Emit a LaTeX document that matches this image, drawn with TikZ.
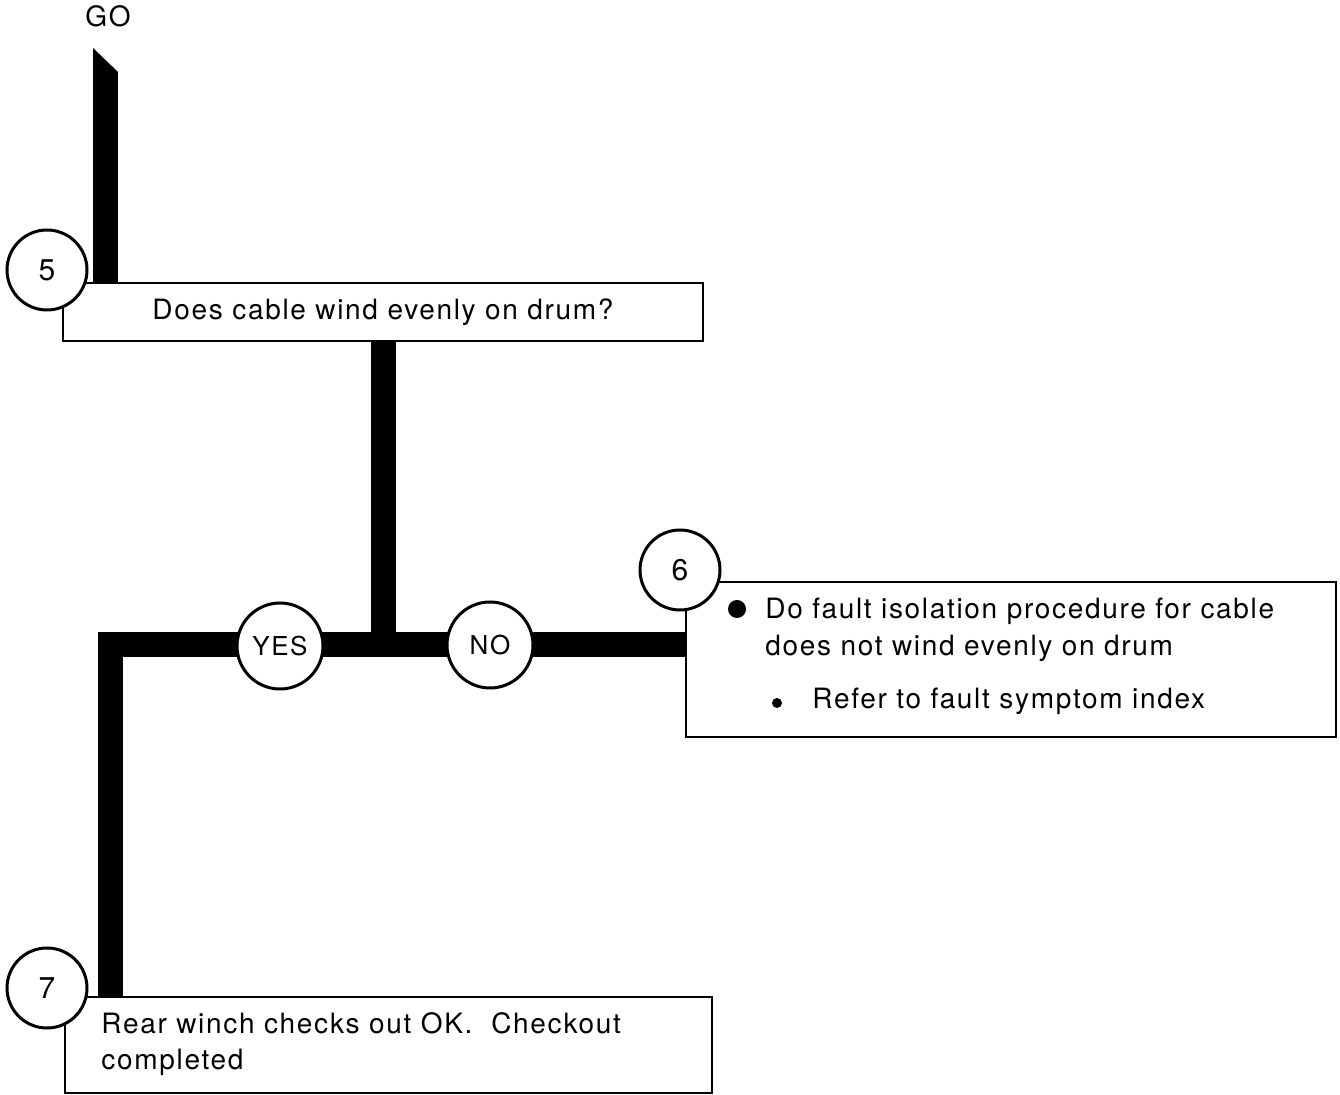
\documentclass[tikz,border=0pt]{standalone}
\usepackage{fontspec}
\setmainfont{TeX Gyre Heros}[LetterSpace=6]
\usetikzlibrary{positioning,backgrounds}
\tikzset{
  flow/.style={line width=12.5pt,line join=miter,line cap=butt},
  stepbox/.style={rectangle,draw,fill=white,line width=1pt,inner sep=0pt,
    font=\fontsize{14}{16}\selectfont},
  stepnum/.style={circle,draw,fill=white,line width=1.5pt,minimum size=40pt,
    inner sep=0pt,font=\fontsize{15}{17}\selectfont},
  answer/.style={circle,draw,fill=white,line width=1.5pt,minimum size=43pt,
    inner sep=0pt,font=\fontsize{13}{15}\selectfont},
  txt/.style={anchor=base west,inner sep=0pt,font=\fontsize{14}{16}\selectfont},
  dot/.style={circle,fill=black,inner sep=0pt,minimum size=#1},
}

\begin{document}
\begin{tikzpicture}[x=0.5pt,y=-0.5pt]
  \useasboundingbox (0,0) rectangle (1340,1095);
  % step boxes
  \node[stepbox,minimum width=320pt,minimum height=29pt] (q5) at (383,312)
    {Does cable wind evenly on drum?};
  \node[stepbox,minimum width=325pt,minimum height=77.5pt] (a6) at (1011,659.5) {};
  \node[stepbox,minimum width=323.5pt,minimum height=48pt] (a7) at (388.5,1045) {};
  % step numbers
  \node[stepnum] (n5) at (47,270) {5};
  \node[stepnum] (n6) at (680,570) {6};
  \node[stepnum] (n7) at (47,988) {7};
  % answers
  \node[answer] (yes) at (280,646) {YES};
  \node[answer] (no) at (490,645) {NO};
  % texts
  \node[anchor=base,inner sep=0pt,font=\fontsize{14}{16}\selectfont] (golabel) at (108,27) {GO};
  \node[dot=9pt] (b1) at (737,609) {};
  \node[txt] (t6a) at (765,619) {Do fault isolation procedure for cable};
  \node[txt] (t6b) at (765,656) {does not wind evenly on drum};
  \node[dot=5pt] (b2) at (777,703) {};
  \node[txt] (t6c) at (812,709) {Refer to fault symptom index};
  \node[txt] (t7a) at (101,1034) {Rear winch checks out OK.\ \ Checkout};
  \node[txt] (t7b) at (101,1070) {completed};
  % flow lines
  \coordinate (go) at (105.5,72);
  \coordinate (jn) at (383,645);
  \coordinate (bend) at (110,645);
  \begin{scope}[on background layer]
    \draw[flow] (go) -- (go |- q5.north);
    \fill ([xshift=-6.25pt]go) -- ++(0,12pt) -- ([xshift=6.25pt]go) -- cycle;
    \draw[flow] (q5.south -| jn) -- (jn);
    \draw[flow] (jn -| a6.west) -- (bend) -- (bend |- a7.north);
  \end{scope}
\end{tikzpicture}
\end{document}
